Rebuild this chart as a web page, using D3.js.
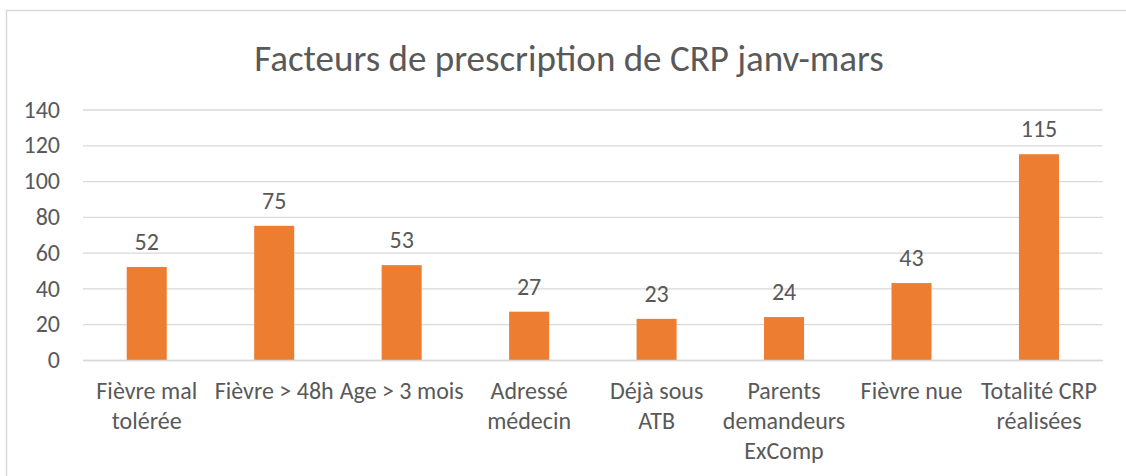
<!DOCTYPE html>
<html>
<head>
<meta charset="utf-8">
<script src="https://cdn.jsdelivr.net/npm/d3@7"></script>
<style>
  body { margin: 0; background: #fff; }
  svg text { font-family: Carlito, Calibri, "Open Sans", sans-serif; fill: #595959; }
</style>
</head>
<body>
<div id="chart"></div>
<script>
const w = 1126;
const h = 476;

const title = "Facteurs de prescription de CRP janv-mars";
const categories = [
  "Fièvre mal\ntolérée",
  "Fièvre > 48h",
  "Age > 3 mois",
  "Adressé\nmédecin",
  "Déjà sous\nATB",
  "Parents\ndemandeurs\nExComp",
  "Fièvre nue",
  "Totalité CRP\nréalisées"
];
const values = [52, 75, 53, 27, 23, 24, 43, 115];
const yTicks = [0, 20, 40, 60, 80, 100, 120, 140];

const plotLeft = 83;
const plotRight = 1102.7;
const plotTop = 109.5;
const plotBottom = 360;

const svg = d3.select("#chart").
  append("svg").
  attr("width", w).
  attr("height", h);

// chart frame (only top and left visible in the crop)
svg.append("rect").
  attr("x", 6.5).
  attr("y", 10.5).
  attr("width", w + 10).
  attr("height", h + 10).
  attr("fill", "none").
  attr("stroke", "#d9d9d9").
  attr("stroke-width", 1.5);

svg.append("text").
  attr("x", 569).
  attr("y", 71).
  attr("text-anchor", "middle").
  style("font-size", "37px").
  text(title);

const xScale = d3.scaleBand().
  domain(categories).
  range([plotLeft, plotRight]).
  paddingInner(0.686).
  paddingOuter(0.343);

const yScale = d3.scaleLinear().
  domain([0, 140]).
  range([plotBottom, plotTop]);

// gridlines + y labels
const yAxis = d3.axisLeft(yScale).
  tickValues(yTicks).
  tickSize(-(plotRight - plotLeft)).
  tickPadding(23);

const gy = svg.append("g").
  attr("transform", "translate(" + plotLeft + ",0)").
  call(yAxis);
gy.select(".domain").remove();
gy.selectAll(".tick line").attr("stroke", "#d9d9d9").attr("stroke-width", 1.3);
gy.selectAll(".tick text").
  style("font-size", "24px").
  attr("fill", "#595959");

// bars
svg.selectAll(".bar").
  data(values).
  enter().
  append("rect").
  attr("class", "bar").
  attr("x", (d, i) => xScale(categories[i])).
  attr("y", d => yScale(d)).
  attr("width", xScale.bandwidth()).
  attr("height", d => yScale(0) - yScale(d)).
  attr("fill", "#ed7d31");

// value labels
svg.selectAll(".val").
  data(values).
  enter().
  append("text").
  attr("class", "val").
  attr("x", (d, i) => xScale(categories[i]) + xScale.bandwidth() / 2).
  attr("y", d => yScale(d) - 17).
  attr("text-anchor", "middle").
  style("font-size", "24px").
  text(d => d);

// category labels
const xAxis = d3.axisBottom(xScale).tickSize(0).tickFormat("");
const gx = svg.append("g").
  attr("transform", "translate(0," + plotBottom + ")").
  call(xAxis);
gx.select(".domain").attr("stroke", "#d9d9d9").attr("stroke-width", 1.3);

gx.selectAll(".tick").each(function (d) {
  const t = d3.select(this).append("text").
    attr("text-anchor", "middle").
    style("font-size", "24px").
    attr("fill", "#595959");
  d.split("\n").forEach((line, j) => {
    t.append("tspan").
      attr("x", 0).
      attr("y", 38.5 + j * 30).
      text(line);
  });
});
</script>
</body>
</html>
